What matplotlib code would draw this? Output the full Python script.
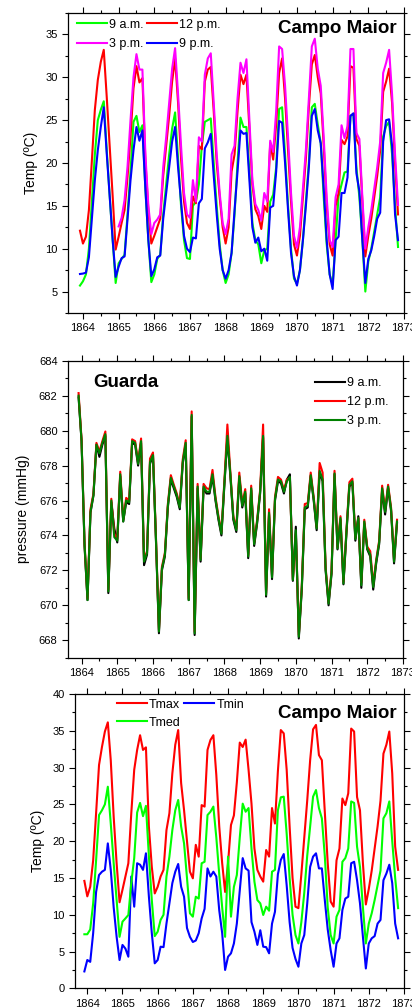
import numpy as np
import matplotlib
matplotlib.use("Agg")
import matplotlib.pyplot as plt
from matplotlib.ticker import MultipleLocator, FormatStrFormatter

plt.rcParams["font.family"] = "Liberation Sans"

# monthly records, Dec 1863 .. Nov 1872
months = 1863 + 11 / 12 + np.arange(108) / 12
nan = np.nan

# Campo Maior, temperature at fixed hours (ºC)
t_9am = [5.7, 6.2, 7.0, 10.0, 15.5, 21.0, 25.0, 26.2, 27.2, 21.5, 16.1, 11.0,
         6.0, 8.3, 8.8, 9.3, 14.0, 19.0, 24.8, 25.5, 23.6, 24.4, 17.0, 11.0,
         6.1, 7.0, 8.8, 9.3, 14.0, 17.5, 21.0, 24.0, 25.9, 20.5, 15.0, 11.0,
         8.9, 8.8, 15.0, 15.5, 17.5, 22.0, 24.8, 25.0, 25.2, 20.0, 15.0, 10.5,
         7.5, 6.0, 7.0, 9.5, 14.0, 20.0, 25.3, 24.2, 24.2, 19.0, 13.0, 11.0,
         10.5, 8.3, 9.8, 10.0, 15.5, 16.3, 19.5, 26.3, 26.5, 21.0, 15.0, 10.0,
         6.5, 5.9, 7.5, 11.0, 15.5, 20.0, 26.5, 26.9, 24.5, 22.3, 16.0, 10.5,
         7.0, 5.8, 11.0, 16.1, 17.5, 18.9, 19.0, 25.5, 25.7, 19.5, 16.0, 11.0,
         5.0, 8.5, 10.0, 12.0, 14.0, 16.0, 23.1, 24.3, 24.8, 21.0, 15.0, 10.2]
t_12pm = [12.1, 10.6, 11.4, 14.5, 20.3, 26.2, 29.7, 31.8, 33.2, 27.7, 21.9, 16.1,
          9.9, 11.4, 13.0, 14.5, 18.4, 23.1, 28.7, 31.3, 29.4, 29.9, 20.3, 14.5,
          10.6, 11.5, 12.5, 13.5, 18.5, 22.0, 25.5, 29.5, 32.2, 27.0, 20.5, 15.5,
          13.0, 12.3, 16.1, 15.3, 22.0, 21.6, 29.5, 30.9, 31.2, 26.0, 20.0, 16.0,
          12.5, 10.6, 12.5, 19.0, 21.0, 26.0, 30.3, 29.2, 30.3, 24.0, 17.5, 14.6,
          13.8, 12.3, 15.0, 14.3, 22.3, 20.4, 24.5, 30.5, 32.2, 27.5, 21.5, 15.5,
          10.5, 9.2, 11.5, 16.0, 20.5, 26.5, 31.5, 32.6, 30.0, 28.1, 22.0, 15.0,
          10.5, 9.2, 15.0, 16.5, 22.7, 22.2, 23.1, 31.3, 31.1, 22.8, 22.0, 15.5,
          9.1, 11.5, 13.5, 16.0, 18.5, 21.5, 28.3, 29.5, 31.0, 27.0, 20.0, 14.0]
t_3pm = [nan, nan, nan, nan, nan, nan, nan, nan, nan, nan, nan, nan,
         nan, 12.6, 13.6, 15.7, 19.6, 25.0, 30.0, 32.7, 30.9, 30.9, 21.0, 15.0,
         11.7, 13.0, 13.4, 14.0, 19.5, 23.0, 27.0, 31.0, 33.4, 28.0, 22.0, 16.5,
         14.0, 13.6, 18.0, 15.5, 23.0, 22.5, 30.3, 32.2, 32.8, 27.0, 21.0, 16.5,
         13.0, 11.7, 13.5, 21.0, 22.0, 27.5, 31.7, 30.5, 32.1, 25.0, 18.0, 15.2,
         14.5, 13.3, 16.5, 15.5, 22.6, 21.3, 26.0, 33.6, 33.3, 29.0, 23.0, 16.5,
         11.5, 10.1, 12.5, 17.0, 21.5, 27.5, 33.6, 34.5, 31.0, 29.0, 23.0, 16.0,
         11.0, 10.2, 16.0, 17.5, 24.4, 22.9, 24.3, 33.3, 33.3, 23.5, 22.8, 16.0,
         10.0, 12.5, 14.5, 17.0, 19.5, 22.5, 30.5, 31.7, 33.2, 28.0, 21.0, 15.1]
t_9pm = [7.05, 7.1, 7.2, 9.0, 13.5, 18.0, 21.5, 24.2, 26.5, 21.1, 16.1, 11.0,
         6.7, 7.9, 8.9, 9.1, 13.5, 18.0, 21.5, 24.2, 22.6, 23.8, 17.0, 11.0,
         6.8, 7.6, 9.0, 9.2, 13.5, 16.5, 19.5, 22.5, 24.2, 19.5, 15.5, 11.5,
         10.0, 9.6, 11.3, 11.2, 15.3, 15.8, 21.7, 22.4, 23.4, 18.5, 14.0, 10.0,
         7.5, 6.5, 7.5, 9.5, 14.5, 19.0, 23.8, 23.4, 23.5, 18.0, 12.5, 10.7,
         11.3, 9.7, 10.0, 8.6, 14.8, 15.0, 19.0, 24.9, 24.7, 20.0, 14.5, 9.5,
         6.8, 5.7, 7.5, 11.0, 15.0, 19.5, 25.5, 26.3, 23.8, 22.3, 17.0, 11.0,
         7.0, 5.3, 11.0, 11.4, 16.5, 16.5, 18.3, 25.5, 25.8, 18.8, 16.7, 11.0,
         6.0, 8.8, 9.8, 11.5, 13.5, 14.2, 22.5, 25.0, 25.1, 22.0, 14.0, 11.0]

# Guarda, atmospheric pressure (mmHg)
p_9am = [681.9, 679.4, 673.4, 670.3, 675.3, 676.3, 679.2, 678.5, 679.2, 679.7, 670.7, 675.9,
         674.4, 673.6, 677.4, 674.8, 675.9, 675.8, 679.3, 679.2, 678.0, 679.3, 672.3, 672.9,
         678.1, 678.6, 673.7, 668.4, 672.0, 672.8, 675.6, 677.2, 676.7, 676.2, 675.5, 678.1,
         679.2, 670.3, 680.8, 668.3, 676.7, 672.5, 676.7, 676.4, 676.4, 677.4, 676.0, 674.9,
         674.0, 676.9, 679.6, 677.4, 674.9, 674.2, 677.3, 675.6, 676.4, 672.7, 676.6, 673.4,
         674.7, 676.4, 679.6, 670.5, 675.2, 671.5, 676.0, 677.1, 677.0, 676.4, 677.2, 677.5,
         671.4, 674.5, 668.1, 670.9, 675.5, 675.6, 677.4, 676.0, 674.3, 677.6, 677.1, 672.0,
         670.0, 671.8, 677.5, 673.2, 674.9, 671.2, 674.1, 676.8, 677.0, 673.7, 675.1, 671.0,
         674.7, 673.2, 672.8, 670.9, 672.4, 673.5, 676.6, 675.2, 676.7, 675.4, 672.4, 674.7]
p_12pm = [682.15, 679.5, 673.6, 670.4, 675.5, 676.4, 679.3, 678.8, 679.4, 679.95, 670.9, 676.1,
          674.1, 673.8, 677.65, 674.9, 676.15, 676.0, 679.5, 679.4, 678.2, 679.55, 672.6, 673.1,
          678.4, 678.75, 673.9, 668.6, 672.2, 673.0, 675.8, 677.45, 676.9, 676.4, 675.7, 678.35,
          679.45, 670.4, 681.1, 668.5, 676.95, 672.7, 676.95, 676.7, 676.65, 677.75, 676.2, 675.1,
          674.2, 677.15, 680.35, 677.6, 675.1, 674.4, 677.6, 675.8, 676.65, 672.9, 676.85, 673.6,
          674.9, 676.6, 680.35, 670.7, 675.5, 671.7, 676.2, 677.35, 677.2, 676.6, 677.2, 677.3,
          671.5, 674.1, 668.3, 671.1, 675.8, 675.85, 677.6, 676.2, 674.5, 678.15, 677.6, 672.2,
          670.2, 672.0, 677.7, 673.35, 675.1, 671.35, 674.3, 677.05, 677.25, 673.9, 675.0, 671.3,
          674.9, 673.35, 673.1, 671.2, 672.6, 673.7, 676.85, 675.45, 676.9, 675.6, 672.6, 674.9]
p_3pm = [682.0, 679.4, 673.5, 670.3, 675.35, 676.3, 679.2, 678.7, 679.3, 679.8, 670.8, 676.0,
         673.9, 673.7, 677.5, 674.8, 676.0, 675.9, 679.4, 679.3, 678.1, 679.4, 672.5, 673.0,
         678.2, 678.6, 673.8, 668.5, 672.1, 672.9, 675.7, 677.3, 676.8, 676.3, 675.6, 678.2,
         679.3, 670.3, 680.9, 668.4, 676.8, 672.6, 676.8, 676.5, 676.5, 677.5, 676.1, 675.0,
         674.1, 677.0, 679.7, 677.5, 675.0, 674.3, 677.4, 675.7, 676.5, 672.8, 676.7, 673.5,
         674.8, 676.5, 679.7, 670.6, 675.3, 671.6, 676.1, 677.2, 677.1, 676.5, 677.1, 677.35,
         671.45, 674.3, 668.2, 671.0, 675.6, 675.7, 677.45, 676.1, 674.4, 677.7, 677.2, 672.1,
         670.1, 671.9, 677.55, 673.25, 675.0, 671.25, 674.2, 676.9, 677.1, 673.8, 675.0, 671.15,
         674.8, 673.25, 672.9, 671.05, 672.5, 673.6, 676.7, 675.35, 676.8, 675.5, 672.5, 674.8]

# Campo Maior, daily extremes and mean (ºC)
t_max = [14.6, 12.5, 13.8, 17.4, 23.8, 30.35, 32.8, 34.9, 36.15, 31.0, 23.3, 17.0,
         11.7, 13.4, 15.2, 17.0, 23.8, 29.7, 32.4, 34.4, 32.4, 32.75, 22.0, 16.5,
         12.9, 13.8, 15.2, 16.1, 21.5, 23.8, 29.2, 33.1, 35.1, 27.9, 24.2, 20.0,
         15.85, 14.95, 19.5, 17.9, 24.9, 24.7, 32.4, 33.75, 34.4, 29.0, 22.0, 17.0,
         13.1, 17.0, 22.2, 23.5, 28.0, 33.4, 32.8, 33.8, 29.7, 25.1, 19.0, 16.1,
         15.2, 14.5, 18.8, 17.9, 24.5, 22.4, 29.5, 35.1, 34.65, 29.7, 22.0, 15.0,
         11.1, 10.9, 15.5, 20.5, 25.5, 31.0, 35.2, 35.8, 31.7, 31.0, 24.0, 17.0,
         11.8, 11.1, 17.4, 19.0, 25.8, 24.9, 26.5, 35.3, 34.9, 26.0, 24.2, 17.0,
         11.4, 13.5, 16.0, 19.0, 22.0, 25.5, 31.9, 33.1, 34.9, 29.2, 19.25, 16.1]
t_med = [7.35, 7.35, 8.0, 11.55, 17.4, 23.55, 24.2, 25.0, 27.4, 22.4, 17.0, 12.0,
         7.0, 9.06, 9.5, 9.97, 14.3, 17.7, 23.9, 25.2, 23.4, 24.8, 18.0, 12.0,
         7.1, 7.7, 9.3, 10.0, 15.2, 17.9, 21.5, 24.2, 25.6, 22.0, 19.7, 15.0,
         10.2, 9.74, 12.45, 12.2, 17.0, 17.2, 23.55, 24.0, 24.7, 20.5, 15.5, 11.0,
         7.0, 17.9, 9.74, 13.8, 15.4, 20.5, 25.1, 24.0, 24.5, 19.0, 14.5, 12.0,
         11.55, 9.97, 11.1, 10.55, 15.85, 16.1, 24.2, 25.96, 26.05, 21.0, 15.0, 10.0,
         7.25, 6.1, 9.0, 13.0, 18.0, 22.0, 26.05, 26.95, 24.5, 23.1, 18.0, 11.0,
         7.25, 6.1, 9.74, 10.65, 17.2, 17.7, 19.0, 25.4, 25.2, 19.25, 16.5, 11.0,
         6.1, 8.8, 10.2, 12.0, 14.0, 16.0, 23.1, 23.8, 25.4, 20.0, 15.0, 10.9]
t_min = [2.3, 3.85, 3.6, 7.5, 13.1, 15.4, 15.85, 16.1, 19.7, 16.1, 11.0, 7.0,
         3.85, 5.9, 5.4, 4.3, 15.2, 11.1, 17.0, 16.8, 16.1, 18.35, 12.5, 7.5,
         3.4, 3.85, 5.66, 5.6, 8.8, 11.55, 14.3, 15.85, 16.9, 13.8, 12.45, 8.2,
         7.0, 6.3, 6.5, 7.5, 9.5, 10.8, 16.3, 15.2, 15.85, 15.2, 10.6, 7.5,
         2.5, 4.3, 4.76, 6.1, 8.8, 13.3, 17.7, 16.3, 16.0, 9.0, 7.7, 5.9,
         7.9, 5.66, 5.6, 4.76, 8.8, 10.4, 15.5, 17.45, 18.25, 14.0, 9.0, 5.5,
         4.0, 2.94, 6.1, 7.25, 11.5, 16.5, 17.9, 18.35, 16.3, 16.3, 12.0, 8.0,
         5.2, 2.94, 6.1, 6.8, 10.65, 12.2, 12.45, 17.0, 17.2, 14.7, 11.55, 7.0,
         2.7, 6.1, 6.8, 7.1, 8.8, 9.3, 14.7, 15.6, 16.8, 14.3, 8.8, 6.8]


def style(ax, ymaj, ymin):
    ax.xaxis.set_major_locator(MultipleLocator(1))
    ax.xaxis.set_minor_locator(MultipleLocator(0.5))
    ax.xaxis.set_major_formatter(FormatStrFormatter("%d"))
    ax.yaxis.set_major_locator(MultipleLocator(ymaj))
    ax.yaxis.set_minor_locator(MultipleLocator(ymin))
    ax.tick_params(which="both", direction="out", top=True, right=True,
                   labelsize=8, width=0.8)
    ax.tick_params(which="major", length=4)
    ax.tick_params(which="minor", length=2.5)
    for s in ax.spines.values():
        s.set_linewidth(0.9)


fig = plt.figure(figsize=(4.12, 10.08), dpi=100)
lw = 1.5

# top: hourly temperatures
ax1 = fig.add_axes([0.165, 0.6895, 0.8155, 0.2976])
l1, = ax1.plot(months, t_9am, color="#00ff00", lw=lw, label="9 a.m.")
l2, = ax1.plot(months, t_12pm, color="#ff0000", lw=lw, label="12 p.m.")
l3, = ax1.plot(months, t_3pm, color="#ff00ff", lw=lw, label="3 p.m.")
l4, = ax1.plot(months, t_9pm, color="#0000ff", lw=lw, label="9 p.m.")
ax1.set_xlim(1863.58, 1873)
ax1.set_ylim(2.5, 37.5)
style(ax1, 5, 2.5)
ax1.set_ylabel("Temp (ºC)", fontsize=10, labelpad=5)
ax1.text(0.978, 0.933, "Campo Maior", transform=ax1.transAxes, ha="right",
         va="baseline", fontsize=13.5, fontweight="bold")
ax1.legend(handles=[l1, l3, l2, l4], ncol=2, loc="upper left",
           bbox_to_anchor=(0.02, 0.99), frameon=False, fontsize=9,
           handlelength=2.4, handletextpad=0.15, columnspacing=0.3,
           labelspacing=0.6, borderpad=0.2, borderaxespad=0)

# middle: pressure
ax2 = fig.add_axes([0.165, 0.3475, 0.8131, 0.2946])
ax2.plot(months, p_9am, color="black", lw=lw, label="9 a.m.")
ax2.plot(months, p_12pm, color="#ff0000", lw=lw, label="12 p.m.")
ax2.plot(months, p_3pm, color="#008000", lw=lw, label="3 p.m.")
ax2.set_xlim(1863.62, 1873)
ax2.set_ylim(667, 684)
style(ax2, 2, 1)
ax2.set_ylabel("pressure (mmHg)", fontsize=10, labelpad=6)
ax2.text(0.075, 0.9125, "Guarda", transform=ax2.transAxes, ha="left",
         va="baseline", fontsize=13.5, fontweight="bold")
ax2.legend(loc="upper left", bbox_to_anchor=(0.73, 0.953), frameon=False,
           fontsize=9, handlelength=2.4, handletextpad=0.15,
           labelspacing=0.55, borderpad=0.2, borderaxespad=0)

# bottom: max / mean / min
ax3 = fig.add_axes([0.182, 0.0195, 0.7985, 0.292])
m1, = ax3.plot(months, t_max, color="#ff0000", lw=lw, label="Tmax")
m2, = ax3.plot(months, t_min, color="#0000ff", lw=lw, label="Tmin")
m3, = ax3.plot(months, t_med, color="#00ff00", lw=lw, label="Tmed")
ax3.set_xlim(1863.65, 1873)
ax3.set_ylim(0, 40)
style(ax3, 5, 2.5)
ax3.set_ylabel("Temp (ºC)", fontsize=10, labelpad=5)
ax3.text(0.979, 0.918, "Campo Maior", transform=ax3.transAxes, ha="right",
         va="baseline", fontsize=13.5, fontweight="bold")
ax3.legend(handles=[m1, m3, m2], ncol=2, loc="upper left",
           bbox_to_anchor=(0.12, 0.993), frameon=False, fontsize=9,
           handlelength=2.4, handletextpad=0.15, columnspacing=0.3,
           labelspacing=0.5, borderpad=0.2, borderaxespad=0)

fig.savefig("out.png", dpi=100)
